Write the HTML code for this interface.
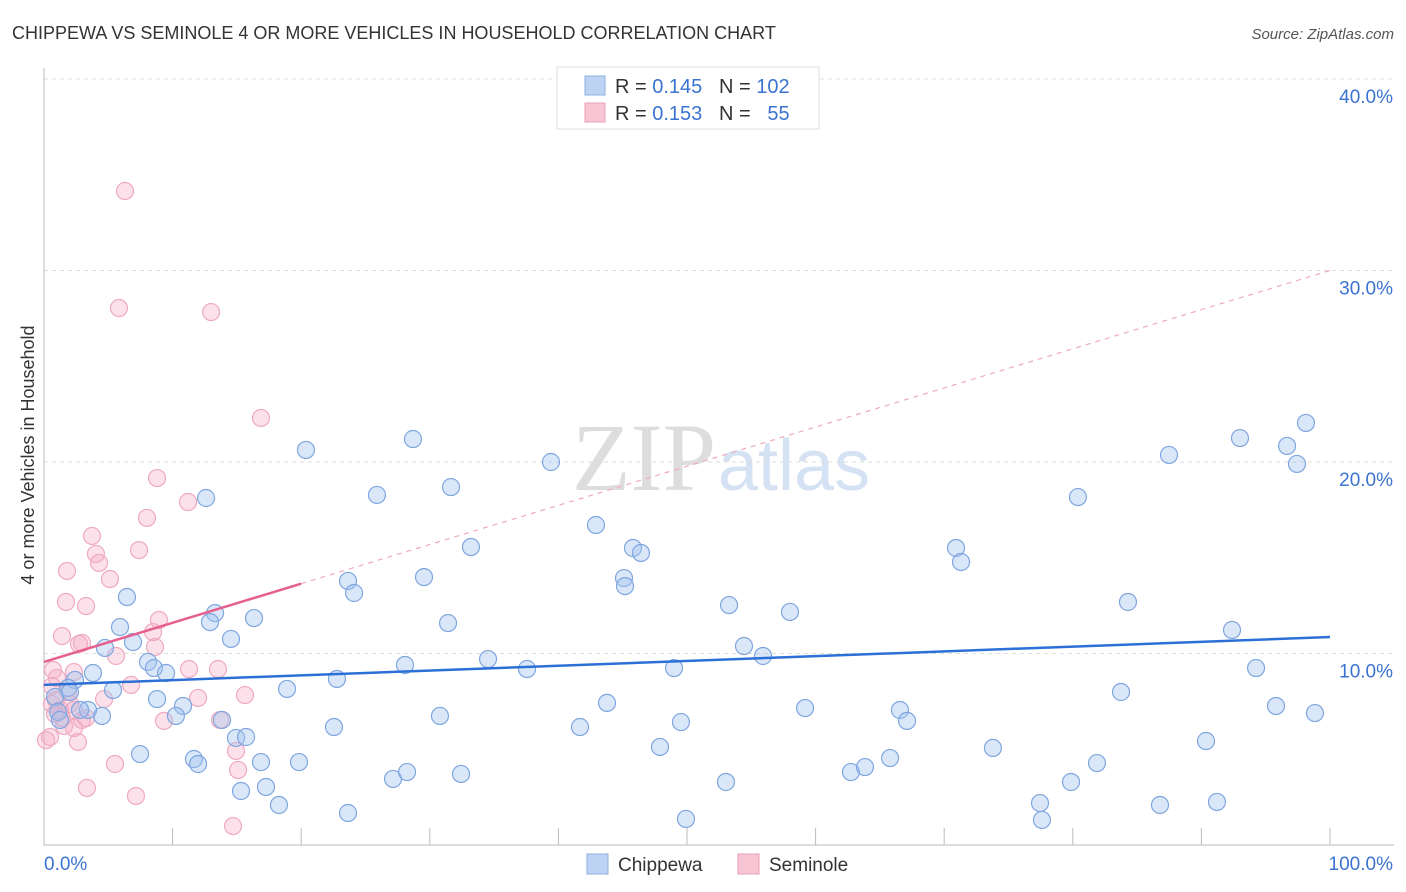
<!DOCTYPE html>
<html><head><meta charset="utf-8">
<style>
body{margin:0;background:#fff;font-family:"Liberation Sans",sans-serif;}
svg{display:block}
</style></head>
<body>
<svg id="chart" width="1406" height="892" xmlns="http://www.w3.org/2000/svg">
<text x="12" y="39" font-size="18" fill="#333">CHIPPEWA VS SEMINOLE 4 OR MORE VEHICLES IN HOUSEHOLD CORRELATION CHART</text>
<text x="1394" y="39" font-size="15" fill="#555" font-style="italic" text-anchor="end">Source: ZipAtlas.com</text>
<text x="716" y="490" font-size="96" font-family="Liberation Serif,serif" fill="#ddd" text-anchor="end">ZIP</text>
<text x="718" y="490" font-size="72" fill="#d5e2f3">atlas</text>
<text transform="translate(34,455) rotate(-90)" font-size="18" fill="#333" text-anchor="middle">4 or more Vehicles in Household</text>
<g id="grid"></g><g id="marks"></g><g id="trends"></g>
<g>
<rect x="557" y="67" width="262" height="62" fill="#fff" stroke="#ddd"/>
<rect x="585" y="76" width="20" height="19" fill="#bcd3f3" stroke="#8db0e0"/>
<rect x="585" y="103" width="20" height="19" fill="#f8c5d5" stroke="#eaa0b8"/>
<text x="615" y="93" font-size="20" fill="#333" xml:space="preserve">R = <tspan fill="#3b73d1">0.145</tspan>   N = <tspan fill="#3b73d1">102</tspan></text>
<text x="615" y="120" font-size="20" fill="#333" xml:space="preserve">R = <tspan fill="#3b73d1">0.153</tspan>   N =   <tspan fill="#3b73d1">55</tspan></text>
</g>
<g>
<rect x="587" y="854" width="21" height="20" fill="#bcd3f3" stroke="#8db0e0"/>
<text x="618" y="871" font-size="19" fill="#333">Chippewa</text>
<rect x="738" y="854" width="21" height="20" fill="#f8c5d5" stroke="#eaa0b8"/>
<text x="769" y="871" font-size="19" fill="#333">Seminole</text>
</g>
</svg>
<script>
const yTicks=[10,20,30,40];
const xTickLabels=["0.0%","100.0%"];
const bluePx=[[306,450],[413,439],[551,462],[206,498],[377,495],[451,487],[596,525],[471,547],[633,548],[641,553],[348,581],[354,593],[424,577],[624,578],[625,586],[127,597],[215,613],[254,618],[210,622],[448,623],[120,627],[231,639],[133,642],[105,648],[148,662],[154,668],[166,673],[93,673],[75,680],[405,665],[488,659],[527,669],[337,679],[287,689],[113,690],[68,688],[55,697],[157,699],[183,706],[176,716],[102,716],[88,710],[58,712],[60,720],[334,727],[222,720],[440,716],[236,738],[246,737],[140,754],[194,759],[198,764],[261,762],[299,762],[241,791],[266,787],[279,805],[348,813],[393,779],[407,772],[461,774],[580,727],[607,703],[660,747],[681,722],[686,819],[674,668],[726,782],[729,605],[744,646],[763,656],[790,612],[805,708],[851,772],[865,767],[890,758],[900,710],[907,721],[956,548],[961,562],[993,748],[1040,803],[1042,820],[1071,782],[1078,497],[1097,763],[1121,692],[1128,602],[1160,805],[1169,455],[1206,741],[1217,802],[1232,630],[1240,438],[1256,668],[1276,706],[1287,446],[1297,464],[1306,423],[1315,713],[70,692],[80,710]];
const pinkPx=[[125,191],[119,308],[211,312],[261,418],[157,478],[188,502],[147,518],[92,536],[96,554],[139,550],[99,563],[67,571],[110,579],[66,602],[86,606],[159,620],[153,632],[62,636],[79,644],[82,643],[155,647],[116,656],[189,669],[218,669],[53,670],[74,672],[57,678],[131,685],[68,692],[198,698],[245,695],[104,699],[52,704],[70,704],[74,710],[55,714],[62,718],[86,718],[82,720],[164,721],[220,720],[64,726],[74,728],[236,751],[78,742],[115,764],[238,770],[87,788],[136,796],[233,826],[50,737],[46,740],[56,700],[60,710],[52,686]];
const blueX=bluePx.map(p=>+((p[0]-44)/12.86).toFixed(2));
const blueY=bluePx.map(p=>+((845-p[1])/19.15).toFixed(2));
const pinkX=pinkPx.map(p=>+((p[0]-44)/12.86).toFixed(2));
const pinkY=pinkPx.map(p=>+((845-p[1])/19.15).toFixed(2));
const blueTrend=[8.36,10.86];
const pinkTrend=[9.56,30.0];
const X=v=>44+v*12.86, Y=v=>845-v*19.15;
const NS="http://www.w3.org/2000/svg";
function mk(tag,attrs,parent){const e=document.createElementNS(NS,tag);for(const k in attrs)e.setAttribute(k,attrs[k]);parent.appendChild(e);return e;}
const grid=document.getElementById('grid');
yTicks.forEach(t=>{
 const l=mk('line',{x1:44,x2:1394,y1:Y(t),y2:Y(t),stroke:'#ddd','stroke-dasharray':'4,4'},grid);
 
 
 const tx=mk('text',{x:1393,y:Y(t)+24,'font-size':19,fill:'#3b73d1','text-anchor':'end'},grid);
 tx.textContent=t.toFixed(1)+'%';
 
 
});
const ya=mk('line',{x1:44,x2:44,y1:68,y2:845,stroke:'#bbb'},grid);


const xa=mk('line',{x1:44,x2:1394,y1:845,y2:845,stroke:'#bbb'},grid);


for(let i=0;i<=10;i++){const t=mk('line',{x1:X(i*10),x2:X(i*10),y1:828,y2:845,stroke:'#bbb'},grid);
 
 }
[[0,44,'start'],[1,1393,'end']].forEach(([i,x,a])=>{const t=mk('text',{x:x,y:870,'font-size':19,fill:'#3b73d1','text-anchor':a},grid);t.textContent=xTickLabels[i];
 
 });
const marks=document.getElementById('marks');
pinkX.forEach((x,i)=>{const c=mk('circle',{cx:X(x),cy:Y(pinkY[i]),r:8.5,fill:'rgba(245,170,195,0.35)',stroke:'#eeaac0','stroke-width':1.2},marks);
 
 });
blueX.forEach((x,i)=>{const c=mk('circle',{cx:X(x),cy:Y(blueY[i]),r:8.5,fill:'rgba(160,195,240,0.4)',stroke:'#7fa6df','stroke-width':1.2},marks);
 
 });
const tr=document.getElementById('trends');
const pinkMid=pinkTrend[0]+(pinkTrend[1]-pinkTrend[0])*0.2;
const pd=mk('line',{x1:X(20),y1:Y(pinkMid),x2:X(100),y2:Y(pinkTrend[1]),stroke:'#eeaac0','stroke-width':1.2,'stroke-dasharray':'5,5'},tr);


const ps=mk('line',{x1:X(0),y1:Y(pinkTrend[0]),x2:X(20),y2:Y(pinkMid),stroke:'#e5608e','stroke-width':2.5},tr);


const bl=mk('line',{x1:X(0),y1:Y(blueTrend[0]),x2:X(100),y2:Y(blueTrend[1]),stroke:'#2c6fd6','stroke-width':2.5},tr);


</script>
</body></html>
